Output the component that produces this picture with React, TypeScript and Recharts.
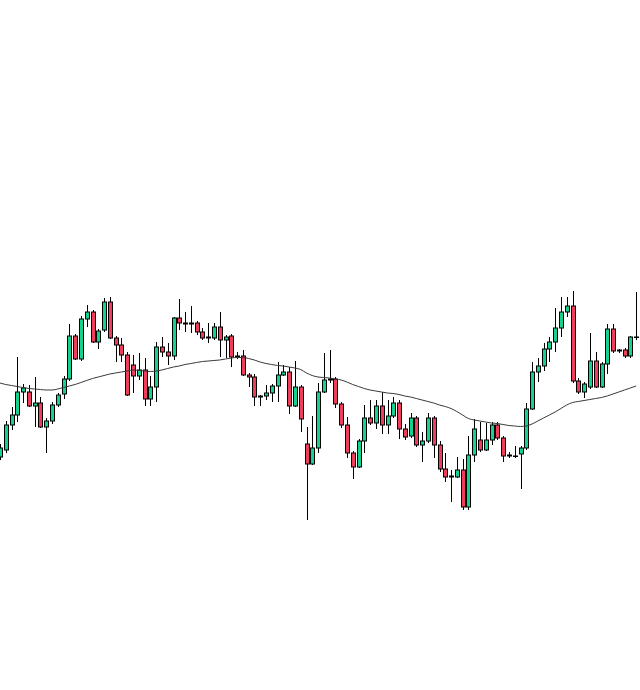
import React from "react"
import { Bar, ComposedChart, Line, XAxis, YAxis } from "recharts"

// OHLC per session, oldest first
const opens = [
  54.3, 55.0, 57.5, 58.5, 60.8, 60.8, 59.4, 59.7, 57.3, 57.9,
  59.5, 60.6, 62.1, 66.4, 64.1, 68.1, 68.8, 65.8, 67.0, 69.8,
  66.2, 65.5, 64.5, 63.5, 62.4, 63.0, 60.1, 61.3, 65.3, 64.8,
  64.4, 68.2, 67.7, 67.6, 67.7, 66.8, 66.3, 66.2, 67.3, 66.0,
  66.4, 64.3, 64.4, 62.5, 62.3, 60.4, 60.4, 60.7, 61.4, 62.5,
  62.8, 59.4, 61.3, 55.6, 53.6, 55.2, 60.8, 62.0, 62.1, 59.6,
  57.5, 54.7, 53.3, 55.9, 58.2, 57.7, 59.4, 57.5, 58.4, 59.7,
  57.1, 56.4, 58.2, 55.5, 55.9, 58.2, 55.5, 53.1, 52.3, 52.3,
  53.0, 49.3, 54.5, 56.0, 55.0, 56.0, 57.5, 56.2, 54.4, 54.4,
  54.6, 55.2, 59.1, 62.8, 63.4, 65.1, 65.8, 67.2, 68.8, 69.4,
  61.9, 60.8, 61.3, 63.9, 61.3, 63.6, 67.1, 64.9, 65.0, 64.4, 66.3,
]
const closes = [
  55.2, 57.5, 58.5, 60.8, 61.2, 59.4, 59.7, 57.3, 57.9, 59.5,
  60.5, 62.1, 66.4, 64.1, 68.1, 68.8, 65.8, 66.9, 69.8, 66.2,
  65.5, 64.5, 60.5, 62.4, 63.0, 60.1, 61.3, 65.3, 64.8, 64.4,
  68.2, 67.7, 67.6, 67.7, 66.8, 66.2, 66.2, 67.3, 66.0, 66.3,
  64.3, 64.4, 62.5, 62.3, 60.3, 60.3, 60.7, 61.4, 62.5, 62.8,
  59.4, 61.3, 58.1, 53.6, 55.2, 60.8, 62.0, 62.1, 59.6, 57.5,
  54.7, 53.3, 55.9, 58.2, 57.7, 59.4, 57.5, 58.4, 59.7, 57.1,
  56.3, 58.2, 55.5, 55.9, 58.2, 55.5, 53.1, 52.3, 52.4, 53.0,
  49.3, 54.5, 57.1, 55.0, 56.0, 57.5, 56.2, 54.4, 54.5, 54.4,
  55.2, 59.1, 62.8, 63.4, 65.1, 65.8, 67.2, 68.8, 69.4, 61.9,
  60.8, 61.6, 63.9, 61.3, 63.6, 67.1, 64.9, 65.0, 64.4, 66.3, 66.3,
]
const highs = [
  55.6, 57.9, 59.3, 64.3, 61.6, 61.5, 62.3, 60.3, 58.2, 59.8,
  60.7, 62.4, 67.6, 66.6, 68.4, 69.5, 69.0, 67.1, 70.2, 70.3,
  66.4, 66.2, 64.8, 64.5, 64.7, 64.2, 62.4, 65.8, 66.3, 65.7,
  68.3, 70.1, 68.8, 69.4, 67.9, 67.2, 67.7, 67.7, 68.8, 66.5,
  66.6, 64.8, 65.0, 62.7, 62.6, 60.5, 61.5, 61.6, 63.8, 63.5,
  63.3, 63.9, 61.5, 57.3, 58.4, 61.7, 64.7, 65.0, 62.3, 59.8,
  58.3, 54.9, 56.1, 59.5, 60.0, 60.0, 60.8, 60.0, 60.3, 60.0,
  57.6, 58.7, 58.4, 56.8, 58.7, 58.4, 55.9, 54.7, 53.0, 54.3,
  54.1, 56.4, 58.1, 57.8, 57.7, 57.8, 57.8, 56.4, 54.8, 55.4,
  55.4, 59.7, 63.8, 64.2, 65.7, 66.3, 69.2, 70.3, 70.3, 70.9,
  62.2, 61.8, 66.7, 64.8, 63.8, 67.6, 67.6, 65.1, 65.2, 66.4, 70.8,
]
const lows = [
  54.0, 54.7, 57.0, 57.8, 59.7, 59.3, 57.3, 57.2, 54.7, 57.6,
  59.3, 60.1, 61.9, 64.0, 63.9, 67.3, 65.7, 65.1, 66.8, 66.1,
  63.8, 63.8, 60.4, 60.7, 62.0, 59.4, 59.4, 59.8, 64.3, 63.5,
  64.0, 67.0, 66.8, 66.7, 66.5, 66.0, 65.7, 66.0, 64.3, 64.2,
  63.3, 64.1, 62.4, 61.3, 59.4, 59.4, 60.0, 59.8, 59.8, 62.4,
  58.6, 59.3, 56.8, 48.0, 53.5, 54.7, 60.7, 61.7, 59.2, 57.2,
  54.2, 52.1, 53.2, 54.7, 57.5, 57.1, 56.6, 56.6, 58.2, 56.1,
  56.0, 56.2, 55.3, 53.8, 55.7, 54.2, 52.8, 51.8, 49.8, 52.2,
  49.0, 49.0, 53.8, 54.8, 54.9, 55.5, 56.0, 53.8, 54.2, 54.2,
  51.1, 55.0, 59.0, 61.8, 62.9, 63.8, 64.8, 66.3, 68.3, 61.7,
  60.6, 60.2, 61.1, 61.2, 61.2, 62.6, 64.7, 64.7, 64.2, 64.2, 66.0,
]
// moving average overlay
const maValues = [
  61.7, 61.55, 61.45, 61.35, 61.25, 61.15, 61.1, 61.05, 61.0, 61.0,
  61.1, 61.25, 61.4, 61.55, 61.75, 61.95, 62.15, 62.3, 62.45, 62.6,
  62.7, 62.8, 62.9, 63.0, 62.95, 62.9, 62.85, 62.9, 63.0, 63.15,
  63.3, 63.4, 63.55, 63.65, 63.75, 63.85, 63.9, 63.95, 64.0, 64.1,
  64.2, 64.25, 64.25, 64.15, 64.0, 63.8, 63.65, 63.55, 63.45, 63.4,
  63.3, 63.2, 63.05, 62.7, 62.45, 62.3, 62.25, 62.2, 62.1, 62.0,
  61.8, 61.55, 61.35, 61.15, 61.0, 60.9, 60.8, 60.7, 60.65, 60.55,
  60.4, 60.3, 60.15, 60.0, 59.85, 59.7, 59.5, 59.35, 59.15, 58.85,
  58.5, 58.15, 58.0, 57.9, 57.8, 57.7, 57.65, 57.55, 57.45, 57.4,
  57.35, 57.4, 57.6, 57.9, 58.2, 58.5, 58.8, 59.15, 59.5, 59.75,
  59.85, 59.95, 60.05, 60.15, 60.25, 60.4, 60.6, 60.8, 61.0, 61.2, 61.4,
]

const UP = "#17d18f"
const DOWN = "#ef3d5b"

const data = opens.map((open, i) => ({
  i,
  open,
  close: closes[i],
  high: highs[i],
  low: lows[i],
  range: [lows[i], highs[i]],
  ma: maValues[i],
}))

const Candle = (props: any) => {
  const { x, y, width, height, payload } = props
  const { open, close, high, low } = payload
  const top = Math.min(y, y + height)
  const h = Math.abs(height)
  const cx = Math.round(x + width / 2) + 0.5
  const toY = (v: number) => (high === low ? top : top + ((high - v) / (high - low)) * h)
  const yo = toY(open)
  const yc = toY(close)
  const bodyTop = Math.min(yo, yc)
  const bodyH = Math.max(Math.abs(yc - yo), 0.5)
  return (
    <g>
      <line x1={cx} x2={cx} y1={top} y2={top + h} stroke="#000" strokeWidth={1} />
      <rect
        x={cx - 2}
        y={bodyTop}
        width={4}
        height={bodyH}
        fill={close >= open ? UP : DOWN}
        stroke="#000"
        strokeWidth={1}
      />
    </g>
  )
}

export default function App() {
  return (
    <div style={{ position: "absolute", left: 0, top: 0, width: 640, height: 690, overflow: "hidden", background: "#fff" }}>
      <div style={{ position: "absolute", left: -2.7, top: 0 }}>
        <ComposedChart width={642} height={690} data={data} margin={{ top: 0, right: 0, bottom: 0, left: 0 }} barCategoryGap={0}>
          <XAxis dataKey="i" hide />
          <YAxis hide domain={[31, 100]} />
          <Line
            type="monotone"
            dataKey="ma"
            stroke="#3a3a3a"
            strokeWidth={1}
            dot={false}
            activeDot={false}
            legendType="none"
            isAnimationActive={false}
          />
          <Bar dataKey="range" shape={Candle} isAnimationActive={false} />
        </ComposedChart>
      </div>
    </div>
  )
}
